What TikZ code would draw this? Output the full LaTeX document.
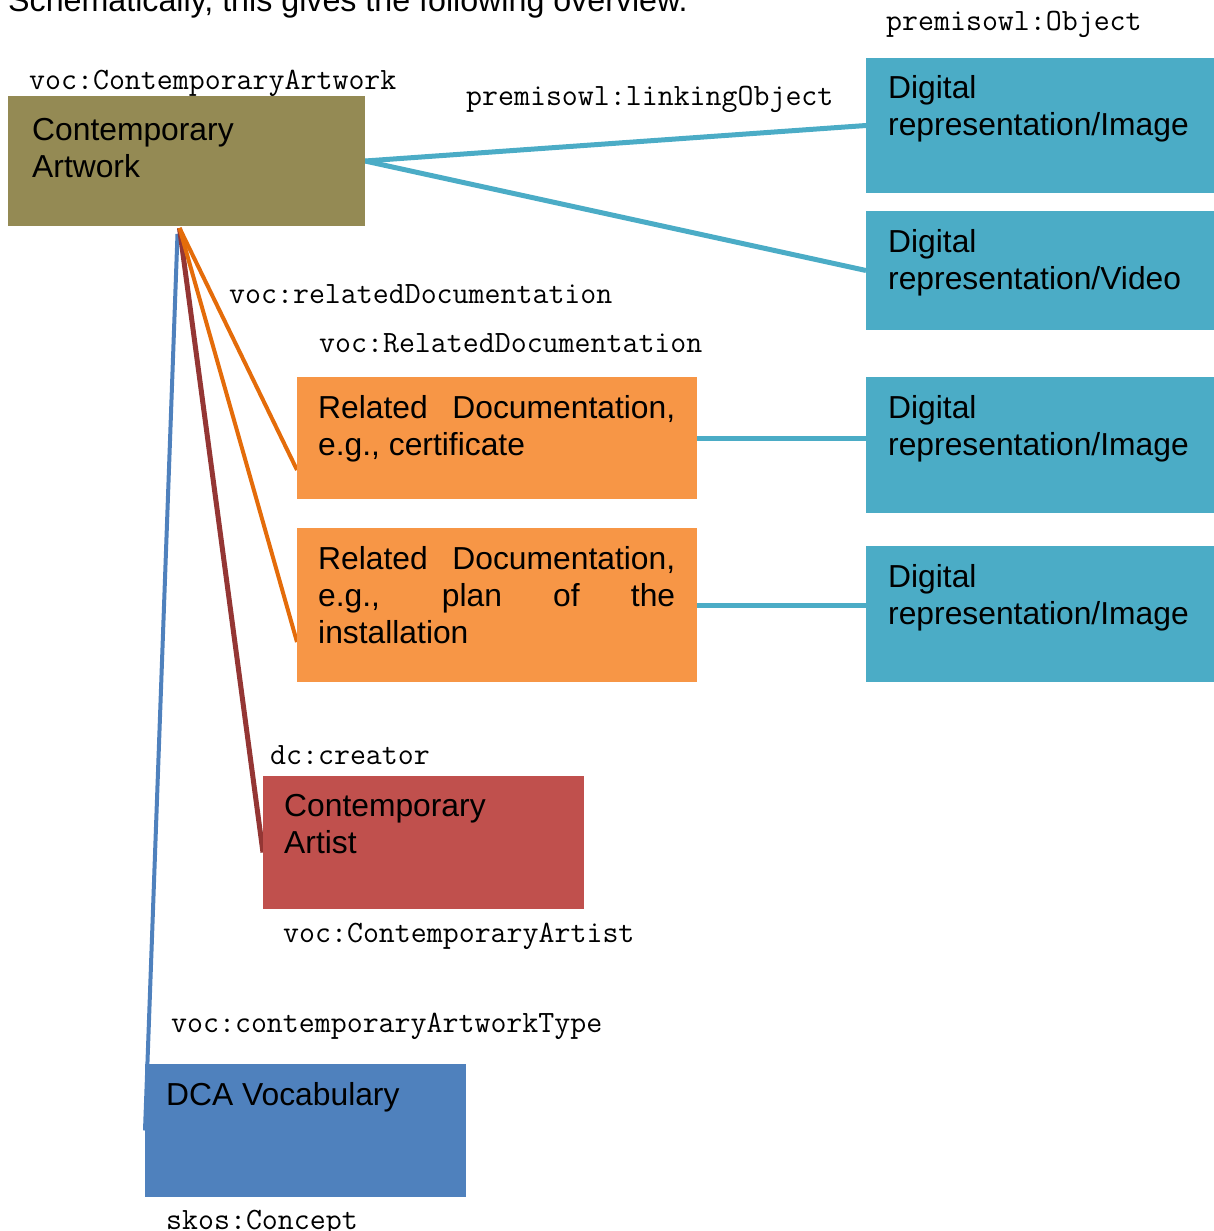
\documentclass[tikz,border=0pt]{standalone}
\usepackage{fontspec}
\setmainfont{Liberation Sans}
\usetikzlibrary{calc,backgrounds}

\definecolor{artolive}{HTML}{948A54}
\definecolor{digicyan}{HTML}{4BACC6}
\definecolor{docorange}{HTML}{F79646}
\definecolor{docline}{HTML}{E46C0A}
\definecolor{artistred}{HTML}{C0504D}
\definecolor{artistline}{HTML}{943634}
\definecolor{vocblue}{HTML}{4F81BD}

\begin{document}
\begin{tikzpicture}[x=1pt,y=-1pt,
    box/.style={anchor=north west,inner sep=0pt,outer sep=0pt},
    boxtext/.style={anchor=north west,inner sep=0pt,align=left,font=\fontsize{31.8}{37}\selectfont},
    reltext/.style={boxtext,text width=357pt,align=justify},
    prop/.style={anchor=base west,inner sep=0pt,font=\fontsize{31}{33}\selectfont\ttfamily}]
\useasboundingbox (0,0) rectangle (1214,1231);

\node[anchor=base west,inner sep=0pt,font=\fontsize{32.2}{37}\selectfont] (title) at (8,12) {Schematically, this gives the following overview.};

% artwork
\node[box,fill=artolive,minimum width=357,minimum height=130] (art) at (8,96) {};
\node[boxtext] (arttxt) at (32,118) {Contemporary\\Artwork};
\node[prop] (artcls) at (29,89) {voc:ContemporaryArtwork};

% digital representations
\node[box,fill=digicyan,minimum width=348,minimum height=135] (img1) at (866,58) {};
\node[boxtext] (img1txt) at (888,75) {Digital\\representation/Image};
\node[box,fill=digicyan,minimum width=348,minimum height=119] (img2) at (866,211) {};
\node[boxtext] (img2txt) at (888,229) {Digital\\representation/Video};
\node[box,fill=digicyan,minimum width=348,minimum height=136] (img3) at (866,377) {};
\node[boxtext] (img3txt) at (888,395) {Digital\\representation/Image};
\node[box,fill=digicyan,minimum width=348,minimum height=136] (img4) at (866,546) {};
\node[boxtext] (img4txt) at (888,564) {Digital\\representation/Image};
\node[prop] (objcls) at (886,31) {premisowl:Object};
\node[prop] (linkprop) at (466,105) {premisowl:linkingObject};

% related documentation
\node[box,fill=docorange,minimum width=400,minimum height=122] (rel1) at (297,377) {};
\node[reltext] (rel1txt) at (318,395) {Related Documentation,\linebreak e.g., certificate};
\node[box,fill=docorange,minimum width=400,minimum height=154] (rel2) at (297,528) {};
\node[reltext] (rel2txt) at (318,546) {Related Documentation,\linebreak e.g., plan of the\linebreak installation};
\node[prop] (relprop) at (229,303) {voc:relatedDocumentation};
\node[prop] (relcls) at (319,352) {voc:RelatedDocumentation};

% artist
\node[box,fill=artistred,minimum width=321,minimum height=133] (artist) at (263,776) {};
\node[boxtext] (artisttxt) at (284,794) {Contemporary\\Artist};
\node[prop] (creator) at (270,764) {dc:creator};
\node[prop] (artistcls) at (283,942) {voc:ContemporaryArtist};

% vocabulary
\node[box,fill=vocblue,minimum width=321,minimum height=133] (dca) at (145,1064) {};
\node[boxtext] (dcatxt) at (166,1082) {DCA Vocabulary};
\node[prop] (typeprop) at (171,1032) {voc:contemporaryArtworkType};
\node[prop] (skos) at (166,1229) {skos:Concept};

\coordinate (root) at ($(art.south)+(-7,2)$);

\begin{scope}[on background layer]
%    \draw (art.east) -- (img1.west);
\draw[digicyan,line width=5pt] (art.east) -- (img1.west);
\draw[digicyan,line width=5pt] (art.east) -- (img2.west);
\draw[digicyan,line width=5pt] (rel1.east) -- (rel1.east -| img3.west);
\draw[digicyan,line width=5pt] (rel2.east) -- (rel2.east -| img4.west);

\draw[vocblue,line width=4pt] ($(root)+(-2,6)$) -- (dca.west);
\draw[artistline,line width=5pt] (root) -- ($(artist.west)+(0,10)$);
\draw[docline,line width=4pt] (root) -- ($(rel1.south west)+(0,-29)$);
\draw[docline,line width=4pt] (root) -- ($(rel2.south west)+(0,-40)$);
\end{scope}

\end{tikzpicture}
\end{document}
